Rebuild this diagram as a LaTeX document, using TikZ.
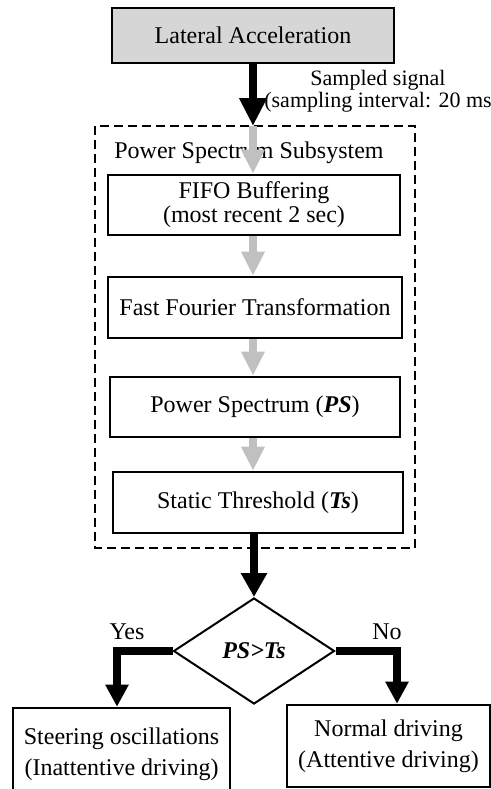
\documentclass[tikz,border=0pt]{standalone}
\usepackage{fontspec}
\setmainfont{Liberation Serif}
\usetikzlibrary{arrows.meta,shapes.geometric}
\definecolor{boxgray}{HTML}{D6D6D6}
\definecolor{flowgray}{HTML}{C0C0C0}
\tikzset{
  stagebox/.style={draw=black, line width=1.3pt, rectangle, inner sep=0pt,
    align=center, font=\fontsize{12}{12}\selectfont},
  outbox/.style={draw=black, line width=1.3pt, rectangle, inner sep=0pt,
    align=center, font=\fontsize{12}{15.5}\selectfont},
  bigflow/.style={draw=black, line width=3.9pt,
    -{Triangle[width=13pt,length=14pt]}},
  branchflow/.style={draw=black, line width=3.7pt, line join=miter,
    -{Triangle[width=11pt,length=11pt]}},
  subflow/.style={draw=flowgray, line width=4pt,
    -{Triangle[width=11pt,length=12pt]}},
  plainlabel/.style={inner sep=0pt, align=center, font=\fontsize{12}{12}\selectfont},
}
\begin{document}
\begin{tikzpicture}[x=0.5pt, y=-0.5pt]
\useasboundingbox (0,0) rectangle (491,789);
\clip (0,0) rectangle (491,789);

% input signal
\node[stagebox, fill=boxgray, minimum width=141pt, minimum height=27.5pt]
  (lat) at (253,35.5) {Lateral Acceleration};

% power spectrum subsystem frame
\draw[line width=1.3pt, dash pattern=on 4.5pt off 2.5pt] (95,126) rectangle (415,548);
\coordinate (subin) at (253,126);
\node[plainlabel] (sublabel) at (249,153) {Power Spectrum Subsystem};

\node[stagebox, minimum width=146pt, minimum height=30pt]
  (fifo) at (254,205) {FIFO Buffering\\(most recent 2 sec)};
\node[stagebox, minimum width=147pt, minimum height=30.5pt]
  (fft) at (255,307.5) {Fast Fourier Transformation};
\node[stagebox, minimum width=145pt, minimum height=30pt]
  (ps) at (255,407) {Power Spectrum (\textbf{\textit{PS}})};
\node[stagebox, minimum width=145pt, minimum height=30.5pt]
  (ts) at (258,502.5) {Static Threshold (\textbf{\textit{Ts}})};

% decision
\node[draw=black, line width=1pt, diamond, inner sep=0pt,
  minimum width=80.5pt, minimum height=53pt,
  font=\fontsize{12}{12}\selectfont\bfseries\itshape]
  (dec) at (254,651) {PS>Ts};

% outcomes
\node[outbox, minimum width=108.5pt, minimum height=46pt]
  (inatt) at (121.5,754) {Steering oscillations\\(Inattentive driving)};
\node[outbox, minimum width=101.5pt, minimum height=41pt]
  (att) at (388.5,746) {Normal driving\\(Attentive driving)};

% connectors
\draw[bigflow] (lat.south -| subin) -- (subin);
\node[inner sep=0pt, align=center, font=\fontsize{11}{11}\selectfont]
  (samplabel) at (378,91) {Sampled signal\\(sampling interval: 20 ms};

\draw[subflow] (subin) -- (fifo.north -| subin);
\draw[subflow] (fifo.south -| subin) -- (fft.north -| subin);
\draw[subflow] (fft.south -| subin) -- (ps.north -| subin);
\draw[subflow] (ps.south -| subin) -- (ts.north -| subin);

\draw[bigflow, -{Triangle[width=12.5pt,length=12pt]}] (ts.south -| dec.north) -- (dec.north);

\draw[branchflow] (dec.west) -| ([xshift=-2.25pt]inatt.north);
\draw[branchflow] (dec.east) -| ([xshift=4.25pt]att.north);

\node[plainlabel] (yes) at (127,632) {Yes};
\node[plainlabel] (no) at (387,632) {No};
\end{tikzpicture}
\end{document}
